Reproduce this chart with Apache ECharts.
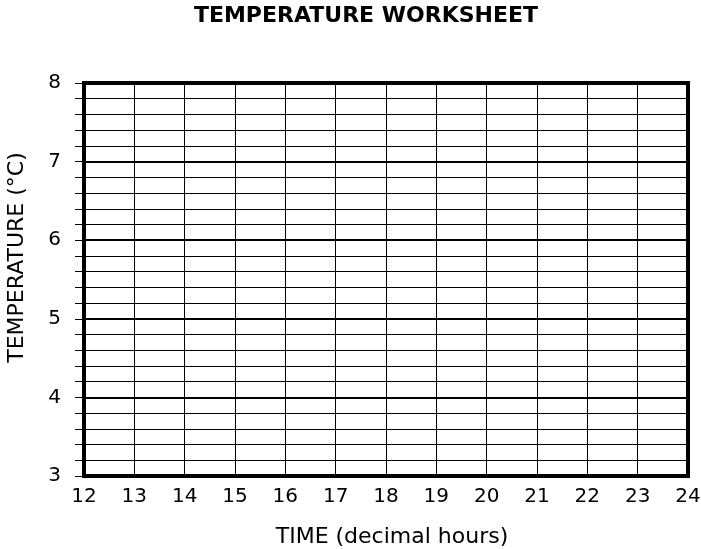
<!DOCTYPE html>
<html><head><meta charset="utf-8">
<script src="https://cdn.jsdelivr.net/npm/echarts@6/dist/echarts.min.js"></script>
<style>html,body{margin:0;padding:0;background:#fff}#c{width:701px;height:549px}</style>
</head><body><div id="c"></div>
<script>
const titleText = 'TEMPERATURE WORKSHEET';
const xName = 'TIME (decimal hours)';
const yName = 'TEMPERATURE (°C)';
const xMin = 12, xMax = 24, xStep = 1;
const yMin = 3, yMax = 8, yStep = 1;
const seriesValues = [];

const chart = echarts.init(document.getElementById('c'));
const font = 'Verdana, "DejaVu Sans", sans-serif';
chart.setOption({
  animation: false,
  backgroundColor: '#fff',
  title: {
    text: titleText, left: 361, top: 0, textAlign: 'center',
    textStyle: {fontFamily: font, fontWeight: 'bold', fontSize: 22, color: '#000'}
  },
  grid: {left: 84, right: 13, top: 83, bottom: 73, containLabel: false, outerBoundsMode: 'none',
         show: true, borderColor: '#000', borderWidth: 4, backgroundColor: 'transparent'},
  xAxis: {
    type: 'value', min: xMin, max: xMax, interval: xStep,
    name: xName, nameLocation: 'middle', nameGap: 50,
    nameTextStyle: {fontFamily: font, fontSize: 22, color: '#000', padding: [0, 0, 0, 12]},
    axisLine: {show: true, lineStyle: {color: '#000', width: 4}},
    axisTick: {show: false},
    axisLabel: {fontFamily: font, fontSize: 20, color: '#000', margin: 11},
    splitLine: {show: true, lineStyle: {color: '#000', width: 1}}
  },
  yAxis: {
    type: 'value', min: yMin, max: yMax, interval: yStep,
    name: yName, nameLocation: 'middle', nameGap: 56,
    nameTextStyle: {fontFamily: font, fontSize: 22, color: '#000', padding: [0, 0, 0, 44]},
    axisLine: {show: true, lineStyle: {color: '#000', width: 4}},
    axisTick: {show: true, length: 9, lineStyle: {color: '#000', width: 1}},
    minorTick: {show: true, splitNumber: 5, length: 9, lineStyle: {color: '#000', width: 1}},
    axisLabel: {fontFamily: font, fontSize: 20, color: '#000', margin: 23},
    splitLine: {show: true, lineStyle: {color: '#000', width: 2}},
    minorSplitLine: {show: true, lineStyle: {color: '#000', width: 1}}
  },
  series: [{type: 'line', data: seriesValues}]
});
</script></body></html>
